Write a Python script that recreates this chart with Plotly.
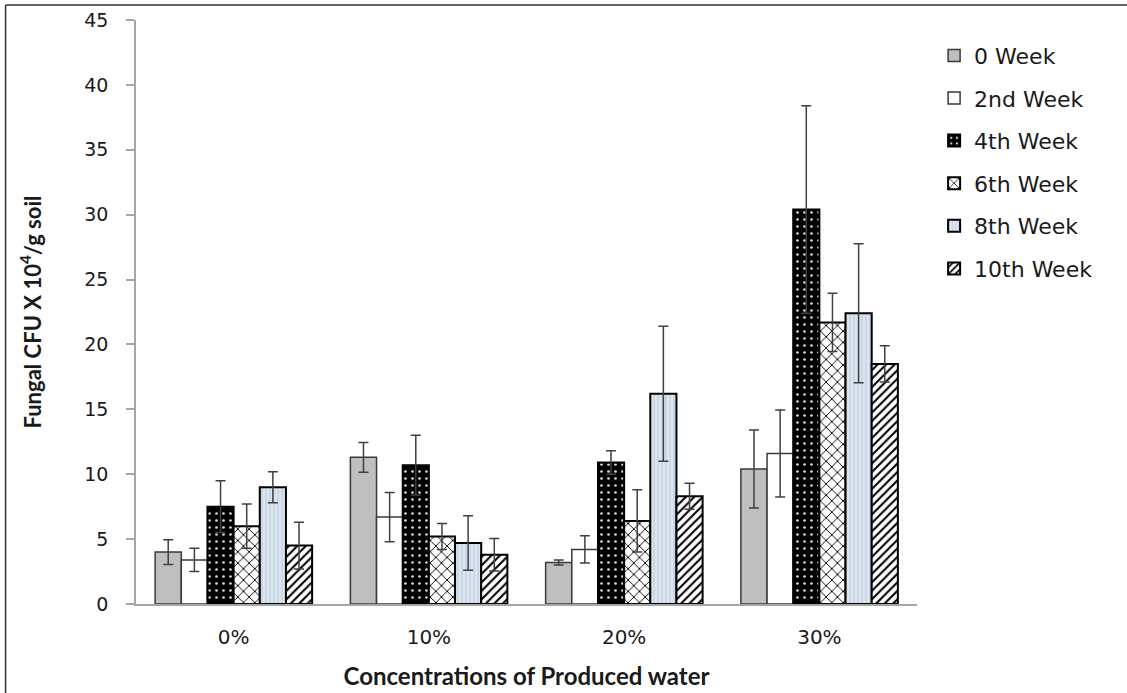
import plotly.graph_objects as go

# Produced-water concentrations (x categories)
concentrations = ["0%", "10%", "20%", "30%"]

# Sampling weeks (one bar series each)
weeks = ["0 Week", "2nd Week", "4th Week", "6th Week", "8th Week", "10th Week"]

# Mean fungal CFU x 10^4 / g soil, per week, across the four concentrations
cfu_week0 = [4.0, 11.3, 3.2, 10.4]
cfu_week2 = [3.4, 6.7, 4.2, 11.6]
cfu_week4 = [7.5, 10.7, 10.9, 30.4]
cfu_week6 = [6.0, 5.2, 6.4, 21.7]
cfu_week8 = [9.0, 4.7, 16.2, 22.4]
cfu_week10 = [4.5, 3.8, 8.3, 18.5]

# Standard errors (symmetric error bars)
err_week0 = [0.95, 1.15, 0.2, 3.0]
err_week2 = [0.9, 1.9, 1.05, 3.35]
err_week4 = [2.0, 2.3, 0.9, 8.0]
err_week6 = [1.7, 1.0, 2.4, 2.25]
err_week8 = [1.2, 2.1, 5.2, 5.35]
err_week10 = [1.8, 1.25, 1.0, 1.4]

values = [cfu_week0, cfu_week2, cfu_week4, cfu_week6, cfu_week8, cfu_week10]
errors = [err_week0, err_week2, err_week4, err_week6, err_week8, err_week10]

# Fill style per series: (fill colour, pattern shape, pattern fg, pattern bg, size, solidity, outline colour, outline width)
styles = [
    ("#bfbfbf", "", None, None, None, None, "#3a3a3a", 1.5),
    ("#ffffff", "", None, None, None, None, "#3a3a3a", 1.5),
    ("#000000", ".", "#d8d8d8", "#000000", 7, 0.12, "#000000", 2),
    ("#ffffff", "x", "#000000", "#ffffff", 8, 0.22, "#000000", 2),
    ("#dce6f2", "|", "#b4c0d0", "#dce6f2", 4, 0.2, "#000000", 2),
    ("#ffffff", "/", "#000000", "#ffffff", 6, 0.35, "#000000", 2),
]

fig = go.Figure()
for i, (name, y, e, st) in enumerate(zip(weeks, values, errors, styles)):
    color, shape, fg, bg, size, solid, lc, lw = st
    marker = dict(color=color, line=dict(color=lc, width=lw))
    if shape:
        marker["pattern"] = dict(shape=shape, fgcolor=fg, bgcolor=bg,
                                 size=size, solidity=solid, fillmode="replace")
    fig.add_trace(go.Bar(
        name=name, x=concentrations, y=y,
        marker=marker,
        legendgroup=name,
        error_y=dict(type="data", array=e, symmetric=True,
                     color="#404040", thickness=1.5, width=5),
    ))

ytick_font = dict(family="DejaVu Sans", size=19, color="#1a1a1a")
xtick_font = dict(family="DejaVu Sans", size=20, color="#1a1a1a")

fig.update_layout(
    width=1127, height=693,
    margin=dict(l=136, r=210, t=20, b=89, autoexpand=False),
    paper_bgcolor="white", plot_bgcolor="white",
    barmode="group", bargap=0.196, bargroupgap=0,
    showlegend=True,
    legend=dict(x=1.0219, xanchor="left", y=0.975, yanchor="top",
                font=dict(family="DejaVu Sans", size=22, color="#1a1a1a"),
                tracegroupgap=11, bgcolor="rgba(0,0,0,0)"),
    xaxis=dict(showline=True, linecolor="#a6a6a6", linewidth=1.5,
               ticks="", tickfont=xtick_font, showgrid=False,
               ticklabelstandoff=14, automargin=False,
               title=dict(text="Concentrations of Produced water",
                          font=dict(family="Lato", size=24, color="#1a1a1a", weight="bold"),
                          standoff=20)),
    yaxis=dict(range=[0, 45], dtick=5, showline=True, linecolor="#a6a6a6",
               linewidth=1.5, ticks="outside", ticklen=8, tickcolor="#a6a6a6",
               tickwidth=1.5, tickfont=ytick_font, showgrid=False, zeroline=False,
               ticklabelstandoff=14, automargin=False,
               title=dict(text="Fungal CFU X 10<sup>4</sup>/g soil",
                          font=dict(family="Lato", size=22, color="#1a1a1a", weight="bold"),
                          standoff=37)),
    shapes=[
        # outer frame: top and left edges
        dict(type="line", xref="paper", yref="paper",
             x0=-0.167, x1=1.3, y0=1.0257, y1=1.0257,
             line=dict(color="#333333", width=1.5)),
        dict(type="line", xref="paper", yref="paper",
             x0=-0.167, x1=-0.167, y0=1.0257, y1=-0.2,
             line=dict(color="#333333", width=1.5)),
    ],
)

fig.write_html("out.html")
